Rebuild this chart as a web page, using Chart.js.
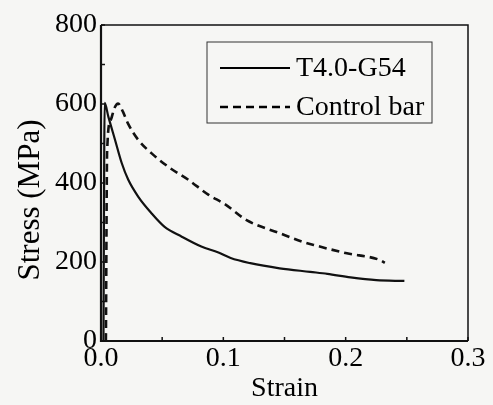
<!DOCTYPE html>
<html>
<head>
<meta charset="utf-8">
<script src="https://cdn.jsdelivr.net/npm/chart.js@4"></script>
<style>
  html, body { margin: 0; padding: 0; background: #f6f6f4; }
  #wrap { width: 493px; height: 405px; }
</style>
</head>
<body>
<div id="wrap"><canvas id="c" width="493" height="405"></canvas></div>
<script>
// T4.0-G54 (solid)
var solidX = [0.002, 0.003, 0.006, 0.0115, 0.017, 0.0223, 0.0305, 0.0414, 0.052, 0.066, 0.082, 0.096, 0.106, 0.122, 0.146, 0.171, 0.185, 0.204, 0.225, 0.248];
var solidY = [0, 603, 568, 509, 450, 408, 365, 323, 289, 264, 239, 224, 210, 197, 184, 175, 170, 161, 154, 152];
// Control bar (dashed)
var dashX = [0.004, 0.005, 0.008, 0.011, 0.014, 0.018, 0.022, 0.0305, 0.0414, 0.055, 0.0714, 0.088, 0.101, 0.119, 0.146, 0.165, 0.174, 0.201, 0.228, 0.232];
var dashY = [0, 480, 560, 590, 601, 580, 551, 509, 475, 441, 408, 370, 347, 306, 273, 251, 243, 222, 205, 198];

var seriesNames = ['T4.0-G54', 'Control bar'];
var xMajor = [0, 0.1, 0.2, 0.3];
var xMinor = [0.05, 0.15, 0.25];
var yMajor = [0, 200, 400, 600, 800];
var yMinor = [100, 300, 500, 700];
var yTitle = 'Stress (MPa)';

var serif = "'Liberation Serif', 'DejaVu Serif', serif";
var ink = '#000';

var toPoints = function(xs, ys) {
    var pts = [];
    for (var i = 0; i < xs.length; i++) {
        pts.push({x: xs[i], y: ys[i]});
    }
    return pts;
};

var framePlugin = {
    id: 'frame',
    afterDraw: function(chart) {
        var ctx = chart.ctx;
        var a = chart.chartArea;
        var xs = chart.scales.x, ys = chart.scales.y;
        ctx.save();
        ctx.strokeStyle = '#111';
        // top / right thinner
        ctx.lineWidth = 1.5;
        ctx.beginPath();
        ctx.moveTo(a.left, a.top); ctx.lineTo(a.right, a.top); ctx.lineTo(a.right, a.bottom);
        ctx.stroke();
        // left / bottom axis lines
        ctx.lineWidth = 2.2;
        ctx.beginPath();
        ctx.moveTo(a.left, a.top); ctx.lineTo(a.left, a.bottom); ctx.lineTo(a.right, a.bottom);
        ctx.stroke();
        // inward ticks
        ctx.lineWidth = 1.5;
        ctx.beginPath();
        xMajor.concat(xMinor).forEach(function(v) {
            var px = xs.getPixelForValue(v);
            ctx.moveTo(px, a.bottom); ctx.lineTo(px, a.bottom - 4);
        });
        yMajor.concat(yMinor).forEach(function(v) {
            var py = ys.getPixelForValue(v);
            ctx.moveTo(a.left, py); ctx.lineTo(a.left + 4, py);
        });
        ctx.stroke();

        // y title, sits a bit below the axis middle in the original
        ctx.save();
        ctx.translate(31, 200);
        ctx.rotate(-Math.PI / 2);
        ctx.font = '31px ' + serif;
        ctx.fillStyle = ink;
        ctx.textAlign = 'center';
        ctx.textBaseline = 'middle';
        ctx.fillText(yTitle, 0, 0);
        ctx.restore();

        // legend box
        var lx = 207, ly = 42, lw = 225, lh = 81;
        ctx.lineWidth = 1;
        ctx.strokeStyle = '#333';
        ctx.strokeRect(lx, ly, lw, lh);
        ctx.font = '28px ' + serif;
        ctx.fillStyle = ink;
        ctx.textBaseline = 'middle';
        var rows = [68, 107];
        chart.data.datasets.forEach(function(ds, i) {
            ctx.strokeStyle = ink;
            ctx.lineWidth = ds.borderWidth;
            ctx.setLineDash(ds.borderDash || []);
            ctx.beginPath();
            ctx.moveTo(220, rows[i]); ctx.lineTo(290, rows[i]);
            ctx.stroke();
            ctx.setLineDash([]);
            ctx.fillText(ds.label, 296, rows[i] + 1);
        });
        ctx.restore();
    }
};

window.onload = function() {
    var ctx = document.getElementById('c').getContext('2d');
    new Chart(ctx, {
        type: 'scatter',
        data: {
            datasets: [{
                label: seriesNames[0],
                data: toPoints(solidX, solidY),
                showLine: true,
                borderColor: '#111',
                borderWidth: 2.2,
                pointRadius: 0,
                cubicInterpolationMode: 'monotone'
            }, {
                label: seriesNames[1],
                data: toPoints(dashX, dashY),
                showLine: true,
                borderColor: '#111',
                borderWidth: 2.6,
                borderDash: [8, 5],
                pointRadius: 0,
                cubicInterpolationMode: 'monotone'
            }]
        },
        options: {
            responsive: false,
            animation: false,
            layout: { padding: { left: 0, right: 25, top: 25, bottom: 0 } },
            plugins: { legend: { display: false }, tooltip: { enabled: false } },
            scales: {
                x: {
                    type: 'linear',
                    min: 0, max: 0.3,
                    afterBuildTicks: function(s) { s.ticks = xMajor.map(function(v) { return {value: v}; }); },
                    afterFit: function(s) { s.height = 64; },
                    grid: { display: false },
                    border: { display: false },
                    ticks: {
                        color: ink, padding: -7,
                        font: { family: serif, size: 28 },
                        callback: function(v) { return v.toFixed(1); }
                    },
                    title: {
                        display: true, text: 'Strain', color: ink,
                        font: { family: serif, size: 28 },
                        padding: { top: 0, bottom: 0 }
                    }
                },
                y: {
                    min: 0, max: 800,
                    afterBuildTicks: function(s) { s.ticks = yMajor.map(function(v) { return {value: v}; }); },
                    afterFit: function(s) { s.width = 101; },
                    grid: { display: false },
                    border: { display: false },
                    ticks: {
                        color: ink, padding: -4,
                        font: { family: serif, size: 28 }
                    },
                    title: { display: false }
                }
            }
        },
        plugins: [framePlugin]
    });
};
</script>
</body>
</html>
